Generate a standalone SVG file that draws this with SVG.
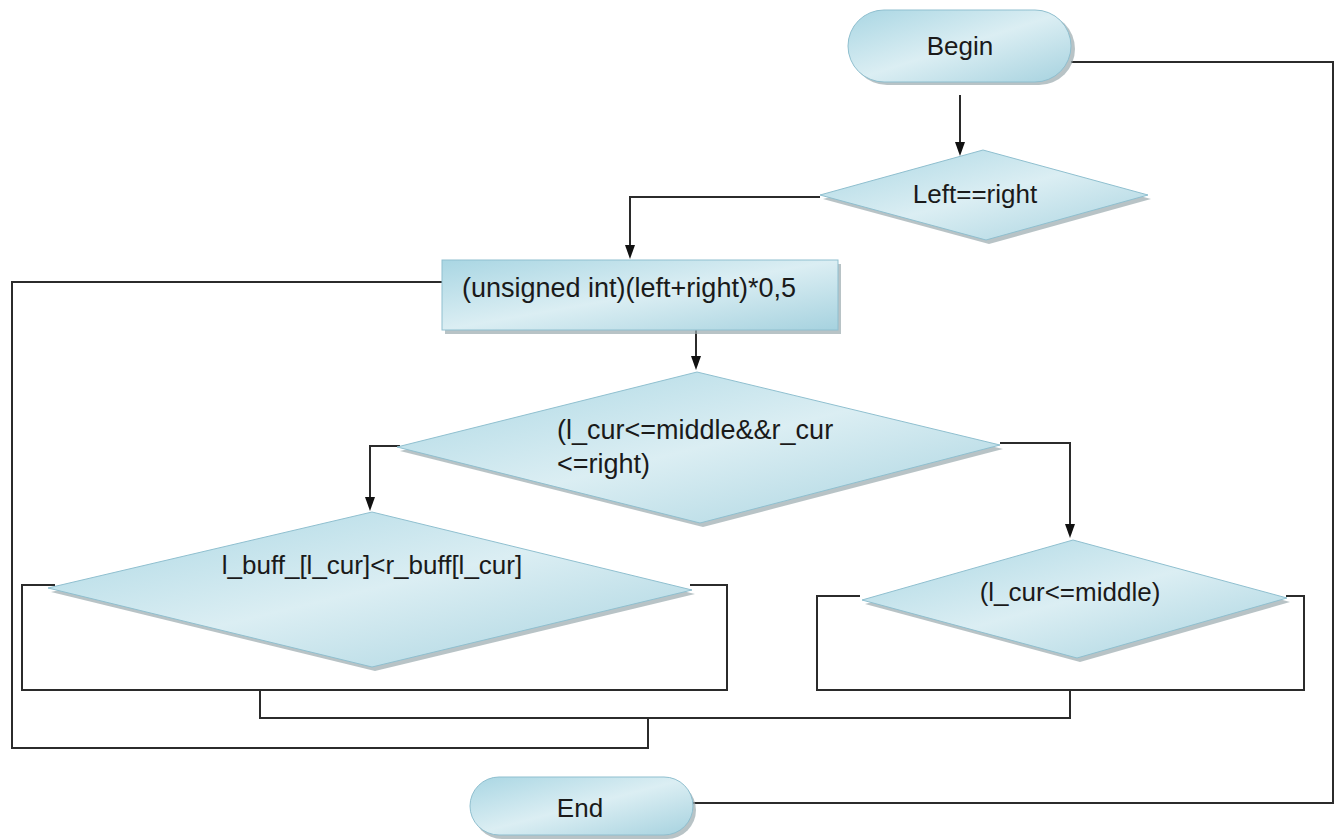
<svg xmlns="http://www.w3.org/2000/svg" width="1341" height="839" viewBox="0 0 1341 839">
<defs>
<linearGradient id="g" x1="0" y1="0" x2="1" y2="1">
<stop offset="0" stop-color="#a9d6e3"/>
<stop offset="0.5" stop-color="#dbeef3"/>
<stop offset="1" stop-color="#a6d2df"/>
</linearGradient>
</defs>
<style>
.s{fill:url(#g);stroke:#8fbfcf;stroke-width:1}
.sh{fill:#9aa9ae;opacity:0.7}
.t{font-family:"Liberation Sans",Arial,sans-serif;font-size:26px;fill:#1a1a1a}
.t27{font-size:27px}
.c{fill:none;stroke:#2b2b2b;stroke-width:2}
.a{fill:#111}
</style>
<rect width="1341" height="839" fill="#ffffff"/>
<g id="connectors">
<polyline class="c" points="1071,62 1333,62 1333,803 693,803"/>
<line class="c" x1="960" y1="95" x2="960" y2="142"/>
<path class="a" d="M955,142 L965,142 L960,156 Z"/>
<polyline class="c" points="820,197 630,197 630,245"/>
<path class="a" d="M625,245 L635,245 L630,259 Z"/>
<line class="c" x1="696" y1="318" x2="696" y2="356"/>
<path class="a" d="M691,356 L701,356 L696,370 Z"/>
<polyline class="c" points="400,446 370,446 370,497"/>
<path class="a" d="M365,497 L375,497 L370,511 Z"/>
<polyline class="c" points="1000,443 1070,443 1070,524"/>
<path class="a" d="M1065,524 L1075,524 L1070,538 Z"/>
<polyline class="c" points="442,282 12,282 12,748 648,748 648,718"/>
<polyline class="c" points="55,585 22,585 22,690 727,690 727,585 690,585"/>
<polyline class="c" points="860,596 817,596 817,690 1304,690 1304,596 1286,596"/>
<polyline class="c" points="260,690 260,718 1070,718 1070,690"/>
</g>
<g id="begin">
<rect x="851" y="13" width="224" height="72" rx="36" class="sh"/>
<rect x="848" y="10" width="223" height="72" rx="36" class="s"/>
<text class="t" x="960" y="55" text-anchor="middle">Begin</text>
</g>
<g id="cond1">
<polygon points="823,199 986,154 1151,199 989,244" class="sh"/>
<polygon points="820,195 983,150 1148,195 986,240" class="s"/>
<text class="t" x="975" y="203" text-anchor="middle">Left==right</text>
</g>
<g id="middle">
<rect x="445" y="264" width="396" height="70" class="sh"/>
<rect x="442" y="260" width="396" height="70" class="s"/>
<text class="t t27" x="462" y="297">(unsigned int)(left+right)*0,5</text>
</g>
<g id="cond2">
<polygon points="400,451 700,376 1003,449 703,527" class="sh"/>
<polygon points="397,447 697,372 1000,445 700,523" class="s"/>
<text class="t t27" x="557" y="439">(l_cur&lt;=middle&amp;&amp;r_cur</text>
<text class="t t27" x="557" y="473">&lt;=right)</text>
</g>
<g id="cond3">
<polygon points="51,592 375,516 695,594 375,671" class="sh"/>
<polygon points="48,588 372,512 692,590 372,667" class="s"/>
<text class="t" x="372" y="574" text-anchor="middle">l_buff_[l_cur]&lt;r_buff[l_cur]</text>
</g>
<g id="cond4">
<polygon points="865,604 1076,544 1290,602 1080,662" class="sh"/>
<polygon points="862,600 1073,540 1287,598 1077,658" class="s"/>
<text class="t" x="1070" y="601" text-anchor="middle">(l_cur&lt;=middle)</text>
</g>
<g id="end">
<rect x="473" y="781" width="223" height="58" rx="29" class="sh"/>
<rect x="470" y="777" width="223" height="58" rx="29" class="s"/>
<text class="t" x="580" y="817" text-anchor="middle">End</text>
</g>
</svg>
